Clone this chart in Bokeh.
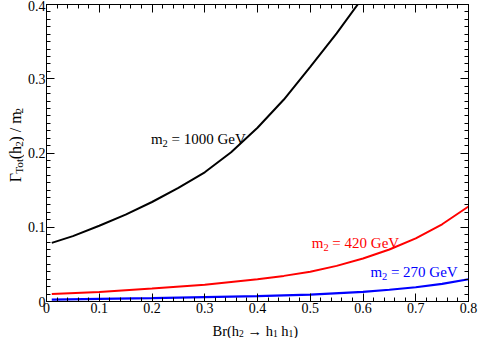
import math
from bokeh.plotting import figure
from bokeh.layouts import row, column
from bokeh.models import (Range1d, LinearAxis, FixedTicker, CustomJSTickFormatter, Label)
from bokeh.embed import file_html
from bokeh.resources import INLINE

# ---------------- data ----------------
br_1000 = [0.01, 0.05, 0.10, 0.15, 0.20, 0.25, 0.30, 0.35, 0.40, 0.45, 0.50, 0.55, 0.59, 0.60]
w_1000 = [0.079, 0.088, 0.102, 0.117, 0.134, 0.153, 0.174, 0.201, 0.234, 0.272, 0.316, 0.361, 0.400, 0.412]

br_420 = [0.01, 0.10, 0.20, 0.30, 0.40, 0.45, 0.50, 0.55, 0.60, 0.65, 0.70, 0.75, 0.80]
w_420 = [0.0102, 0.0128, 0.0175, 0.0225, 0.030, 0.0345, 0.040, 0.048, 0.058, 0.070, 0.085, 0.104, 0.128]

br_270 = [0.01, 0.10, 0.20, 0.30, 0.40, 0.50, 0.60, 0.65, 0.70, 0.75, 0.80]
w_270 = [0.0025, 0.0035, 0.0045, 0.0058, 0.0072, 0.0092, 0.0130, 0.0158, 0.0192, 0.0237, 0.030]

x_ticks = [0.0, 0.1, 0.2, 0.3, 0.4, 0.5, 0.6, 0.7, 0.8]
y_ticks = [0.0, 0.1, 0.2, 0.3, 0.4]
x_minor = [round(i * 0.02, 2) for i in range(41)]
y_minor = [round(i * 0.01, 2) for i in range(41)]

# ---------------- layout ----------------
W_TOTAL, H_TOTAL = 478, 338
YT_W = 24                      # strip holding the y title
XT_H = 19                      # strip holding the x title
W, H = W_TOTAL - YT_W, H_TOTAL - XT_H
BL, BR, BT, BB = 19, 10, 4, 18
XMAX, YMAX = 0.8, 0.4
XS = (W - BL - BR) / XMAX   # px per data unit
YS = (H - BT - BB) / YMAX

FONT = "Liberation Serif"

p = figure(width=W, height=H, output_backend="svg", toolbar_location=None,
           x_range=Range1d(0, XMAX), y_range=Range1d(0, YMAX),
           min_border_left=BL, min_border_right=BR, min_border_top=BT, min_border_bottom=BB,
           x_axis_location=None, y_axis_location=None)
p.xgrid.visible = False
p.ygrid.visible = False
p.outline_line_color = "black"
p.outline_line_width = 1
p.background_fill_color = "white"
p.border_fill_color = "white"

fmt = CustomJSTickFormatter(code="return tick == 0 ? '0' : tick.toFixed(1);")
blank = CustomJSTickFormatter(code="return '';")


def style(ax, ticks, minor, show, standoff):
    ax.ticker = FixedTicker(ticks=ticks, minor_ticks=minor)
    ax.formatter = fmt if show else blank
    ax.axis_line_color = "black"
    ax.axis_line_width = 1
    ax.major_tick_in = 8
    ax.major_tick_out = 0
    ax.minor_tick_in = 4
    ax.minor_tick_out = 0
    ax.major_tick_line_color = "black"
    ax.minor_tick_line_color = "black"
    ax.major_label_text_font = FONT
    ax.major_label_text_font_size = "14px"
    ax.major_label_text_color = "black"
    ax.major_label_standoff = standoff


for loc, ticks, minor, show, so in [("below", x_ticks, x_minor, True, 1),
                                    ("above", x_ticks, x_minor, False, 0),
                                    ("left", y_ticks, y_minor, True, 1),
                                    ("right", y_ticks, y_minor, False, 0)]:
    ax = LinearAxis()
    style(ax, ticks, minor, show, so)
    p.add_layout(ax, loc)

# ---------------- curves ----------------
p.line(br_1000, w_1000, line_color="black", line_width=2)
p.line(br_420, w_420, line_color="#ff0000", line_width=2)
p.line(br_270, w_270, line_color="#0000ff", line_width=2.2)


# ---------------- title strips (pixel coordinates, y downwards) ----------------
def strip(w, h):
    f = figure(width=w, height=h, output_backend="svg", toolbar_location=None,
               x_range=Range1d(0, w), y_range=Range1d(h, 0),
               min_border=0, x_axis_location=None, y_axis_location=None)
    f.xgrid.visible = False
    f.ygrid.visible = False
    f.outline_line_color = None
    f.background_fill_color = "white"
    f.border_fill_color = "white"
    return f


ytf = strip(YT_W, H)
xtf = strip(W_TOTAL, XT_H)

# ---------------- composed texts with subscripts ----------------
ADV = {' ': 250, '(': 333, ')': 333, '/': 278, '=': 564, '0': 500, '1': 500, '2': 500,
       '4': 500, '7': 500, '.': 250, 'B': 667, 'G': 722, 'V': 722, 'T': 611, 'Γ': 578,
       'e': 444, 'h': 500, 'm': 778, 'o': 500, 'r': 333, 't': 278, '→': 1000}


def adv(s, size):
    return sum(ADV.get(c, 500) for c in s) * size / 1000.0


def compose(fig, parts, x0, y0, color, size=15, sub_size=10.5, sub_drop=4.5,
            vertical=False, sx=1.0, sy=-1.0):
    """sx, sy: data units per pixel (sy sign gives direction of 'down')."""
    d = 0.0
    for text, sub in parts:
        fs = sub_size if sub else size
        lead = len(text) - len(text.lstrip(" "))
        d += adv(" " * lead, fs)
        txt = text.strip(" ")
        drop = sub_drop if sub else 0.0
        if vertical:
            lx = x0 + drop * sx
            ly = y0 - d * sy
            ang = math.pi / 2
        else:
            lx = x0 + d * sx
            ly = y0 + drop * sy
            ang = 0.0
        fig.add_layout(Label(x=lx, y=ly, text=txt, angle=ang,
                             text_font=FONT, text_font_size=f"{fs}px", text_color=color,
                             text_align="left", text_baseline="alphabetic"))
        d += adv(txt, fs)


# curve labels (data units inside the frame)
compose(p, [("m", False), ("2", True), (" = 1000 GeV", False)], 0.198, 0.2195, "black",
        sx=1 / XS, sy=-1 / YS)
compose(p, [("m", False), ("2", True), (" = 420 GeV", False)], 0.503, 0.079, "#ff0000",
        sx=1 / XS, sy=-1 / YS)
compose(p, [("m", False), ("2", True), (" = 270 GeV", False)], 0.614, 0.0394, "#0000ff",
        sx=1 / XS, sy=-1 / YS)

# x axis title
compose(xtf, [("Br(h", False), ("2", True), (" → h", False), ("1", True), (" h", False),
              ("1", True), (")", False)], 212, 11.5, "black", size=14.5, sub_size=9.6,
        sub_drop=2.9, sx=1.0, sy=1.0)
# y axis title (reading upwards)
compose(ytf, [("Γ", False), ("Tot", True), ("(h", False), ("2", True), (") / m", False),
              ("2", True)], 14.5, 191, "black", size=16, sub_size=11.2, sub_drop=4.0,
        vertical=True, sx=1.0, sy=1.0)

layout = column(row(ytf, p, spacing=0), xtf, spacing=0)

open("out.html", "w").write(file_html(layout, INLINE))
